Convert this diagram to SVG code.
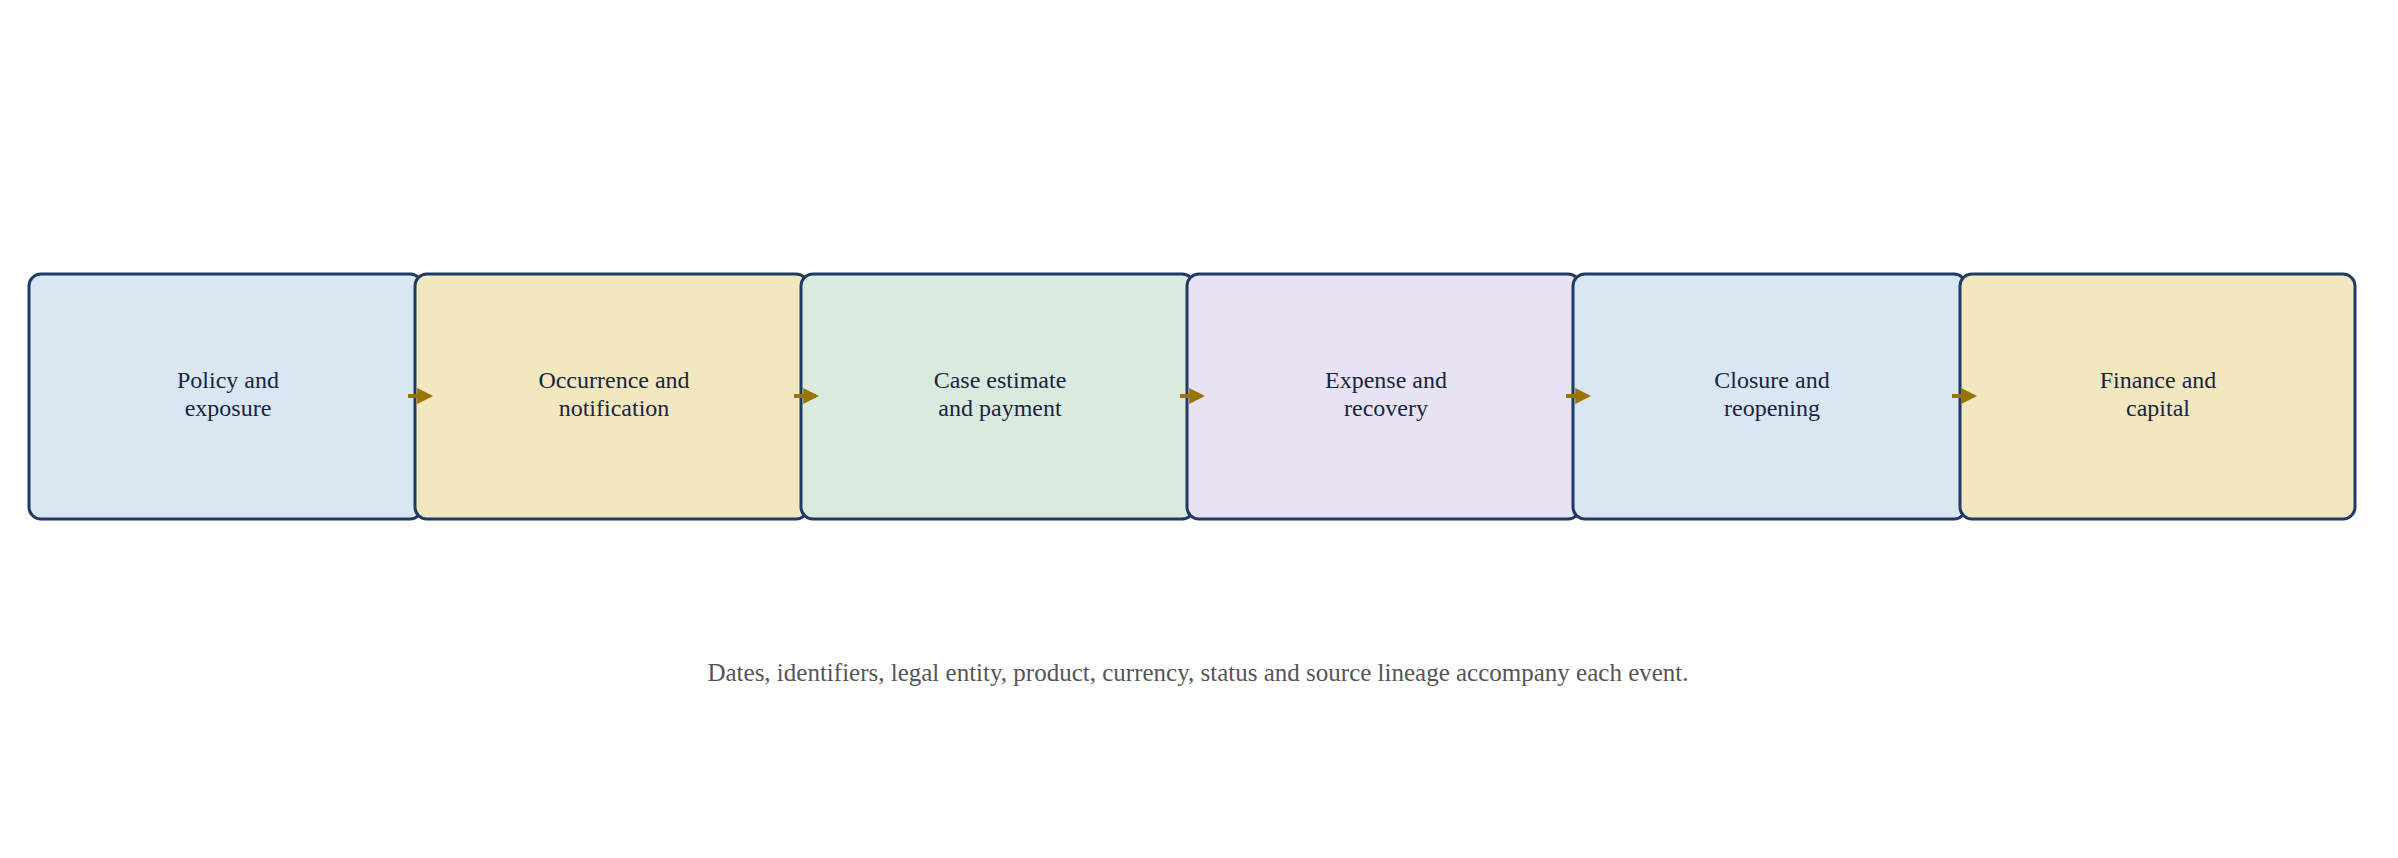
<svg xmlns="http://www.w3.org/2000/svg" width="2398" height="858" viewBox="0 0 2398 858">
<style>
.box{stroke:#1f3a66;stroke-width:3}
.lbl{font-family:"Liberation Serif",serif;font-size:24px;fill:#1a2440;text-anchor:middle}
.cap{font-family:"Liberation Serif",serif;font-size:25px;fill:#555;text-anchor:middle}
.con{stroke:#9a7400;stroke-width:4;fill:none}
</style>
<defs><marker id="ah" viewBox="0 0 10 10" refX="8" refY="5" markerWidth="4" markerHeight="4" orient="auto"><path d="M0,0 L10,5 L0,10 z" fill="#9a7400"/></marker></defs>
<rect width="2398" height="858" fill="#fff"/>
<g id="n1"><rect class="box" x="29" y="274" width="393" height="245" rx="12" fill="#dae6f2"/><text class="lbl" x="228" y="388">Policy and</text><text class="lbl" x="228" y="416">exposure</text></g>
<g id="n2"><rect class="box" x="415" y="274" width="393" height="245" rx="12" fill="#f3e7bf"/><text class="lbl" x="614" y="388">Occurrence and</text><text class="lbl" x="614" y="416">notification</text></g>
<g id="n3"><rect class="box" x="801" y="274" width="393" height="245" rx="12" fill="#dbeadf"/><text class="lbl" x="1000" y="388">Case estimate</text><text class="lbl" x="1000" y="416">and payment</text></g>
<g id="n4"><rect class="box" x="1187" y="274" width="393" height="245" rx="12" fill="#e7e3f2"/><text class="lbl" x="1386" y="388">Expense and</text><text class="lbl" x="1386" y="416">recovery</text></g>
<g id="n5"><rect class="box" x="1573" y="274" width="393" height="245" rx="12" fill="#dae6f2"/><text class="lbl" x="1772" y="388">Closure and</text><text class="lbl" x="1772" y="416">reopening</text></g>
<g id="n6"><rect class="box" x="1960" y="274" width="395" height="245" rx="12" fill="#f3e7bf"/><text class="lbl" x="2158" y="388">Finance and</text><text class="lbl" x="2158" y="416">capital</text></g>
<g id="connectors">
<line class="con" x1="408" y1="396" x2="430" y2="396" marker-end="url(#ah)"/>
<line class="con" x1="794" y1="396" x2="816" y2="396" marker-end="url(#ah)"/>
<line class="con" x1="1180" y1="396" x2="1202" y2="396" marker-end="url(#ah)"/>
<line class="con" x1="1566" y1="396" x2="1588" y2="396" marker-end="url(#ah)"/>
<line class="con" x1="1952" y1="396" x2="1974" y2="396" marker-end="url(#ah)"/>
</g>
<text class="cap" x="1198" y="681">Dates, identifiers, legal entity, product, currency, status and source lineage accompany each event.</text>
</svg>
